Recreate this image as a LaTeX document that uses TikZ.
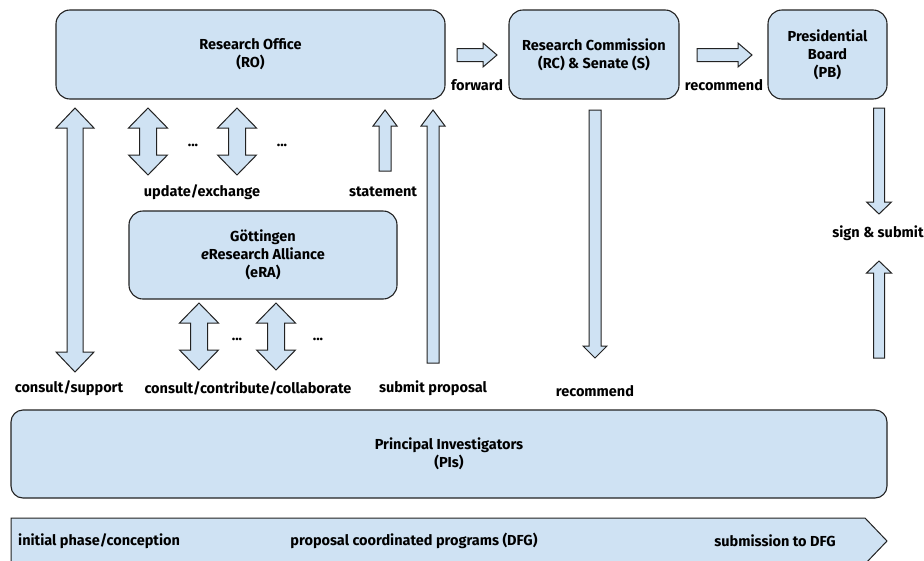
\documentclass[tikz,border=0pt]{standalone}
\usepackage{fontspec}
\setmainfont{Fira Sans}
\usetikzlibrary{positioning}

\definecolor{boxblue}{HTML}{CFE2F3}
\definecolor{boxline}{HTML}{222222}

\tikzset{
    unit/.style={draw=boxline, fill=boxblue, line width=1.1pt, rounded corners=14pt,
        align=center, font=\bfseries\fontsize{14.5}{18}\selectfont},
    lbl/.style={font=\bfseries\fontsize{14.5}{17}\selectfont, inner sep=0pt},
    blk/.style={draw=boxline, fill=boxblue, line width=1pt, line join=miter},
}

% block arrows: position, start, end, shaft half width, head half width, head length
\newcommand{\dblarr}[6]{%
    \draw[blk] (#1,#2) -- ({#1+#5},{#2+#6}) -- ({#1+#4},{#2+#6}) -- ({#1+#4},{#3-#6})
        -- ({#1+#5},{#3-#6}) -- (#1,#3) -- ({#1-#5},{#3-#6}) -- ({#1-#4},{#3-#6})
        -- ({#1-#4},{#2+#6}) -- ({#1-#5},{#2+#6}) -- cycle;}
\newcommand{\uparr}[6]{%
    \draw[blk] (#1,#2) -- ({#1+#5},{#2+#6}) -- ({#1+#4},{#2+#6}) -- ({#1+#4},#3)
        -- ({#1-#4},#3) -- ({#1-#4},{#2+#6}) -- ({#1-#5},{#2+#6}) -- cycle;}
\newcommand{\dnarr}[6]{%
    \draw[blk] ({#1-#4},#2) -- ({#1+#4},#2) -- ({#1+#4},{#3-#6}) -- ({#1+#5},{#3-#6})
        -- (#1,#3) -- ({#1-#5},{#3-#6}) -- ({#1-#4},{#3-#6}) -- cycle;}
\newcommand{\rtarr}[6]{%
    \draw[blk] (#2,{#1-#4}) -- ({#3-#6},{#1-#4}) -- ({#3-#6},{#1-#5}) -- (#3,#1)
        -- ({#3-#6},{#1+#5}) -- ({#3-#6},{#1+#4}) -- (#2,{#1+#4}) -- cycle;}

\begin{document}
\begin{tikzpicture}[x=1pt, y=-1pt]
    \useasboundingbox (0,0) rectangle (924,560);

    % units
    \node[unit, minimum width=389pt, minimum height=89pt] (ro) at (250.5,54.5) {Research Office\\(RO)};
    \node[unit, minimum width=170pt, minimum height=89pt] (rc) at (594,54.5) {Research Commission\\(RC) \& Senate (S)};
    \node[unit, minimum width=119pt, minimum height=89pt] (pb) at (827.5,54.5) {Presidential\\Board\\(PB)};
    \node[unit, minimum width=268pt, minimum height=88pt] (era) at (263,255) {G\"ottingen\\\textit{e}Research Alliance\\(eRA)};
    \node[unit, minimum width=876pt, minimum height=88pt, rounded corners=12pt] (pi) at (449,454) {Principal Investigators\\(PIs)};

    % phase bar
    \draw[blk] (11,518) -- (865,518) -- (887,541) -- (865,564) -- (11,564) -- cycle;
    \node[lbl, anchor=west] (ph1) at (18,541) {initial phase/conception};
    \node[lbl] (ph2) at (414,541) {proposal coordinated programs (DFG)};
    \node[lbl] (ph3) at (775,541) {submission to DFG};

    % arrows
    \rtarr{55}{457}{497}{6.5}{12}{14}
    \rtarr{55}{697}{752}{6.5}{12}{14}
    \dblarr{75}{108}{372}{8}{19}{20}
    \dblarr{148}{108}{175}{8.5}{19.5}{20}
    \dblarr{237}{108}{175}{8.5}{19.5}{20}
    \dblarr{199}{303}{370}{8.5}{19.5}{20}
    \dblarr{276}{303}{370}{8.5}{19.5}{20}
    \uparr{385}{110}{171}{6}{12}{16}
    \uparr{433}{110}{363}{6}{12}{16}
    \dnarr{595}{110}{358}{6}{12}{12}
    \dnarr{879}{108}{214}{5.5}{12.5}{12}
    \uparr{879}{261}{358}{5.5}{12.5}{12}

    % labels
    \node[lbl] (fwd) at (477,85) {forward};
    \node[lbl] (rec) at (724,85) {recommend};
    \node[lbl] (d1) at (193,145) {...};
    \node[lbl] (d2) at (282,145) {...};
    \node[lbl] (d3) at (237,339) {...};
    \node[lbl] (d4) at (318,339) {...};
    \node[lbl] (upd) at (202,192) {update/exchange};
    \node[lbl] (stm) at (383,192) {statement};
    \node[lbl] (cns) at (69,388) {consult/support};
    \node[lbl] (ccc) at (248,388) {consult/contribute/collaborate};
    \node[lbl] (sub) at (433,388) {submit proposal};
    \node[lbl] (rec2) at (595,391) {recommend};
    \node[lbl] (sgn) at (878,233) {sign \& submit};
\end{tikzpicture}
\end{document}
